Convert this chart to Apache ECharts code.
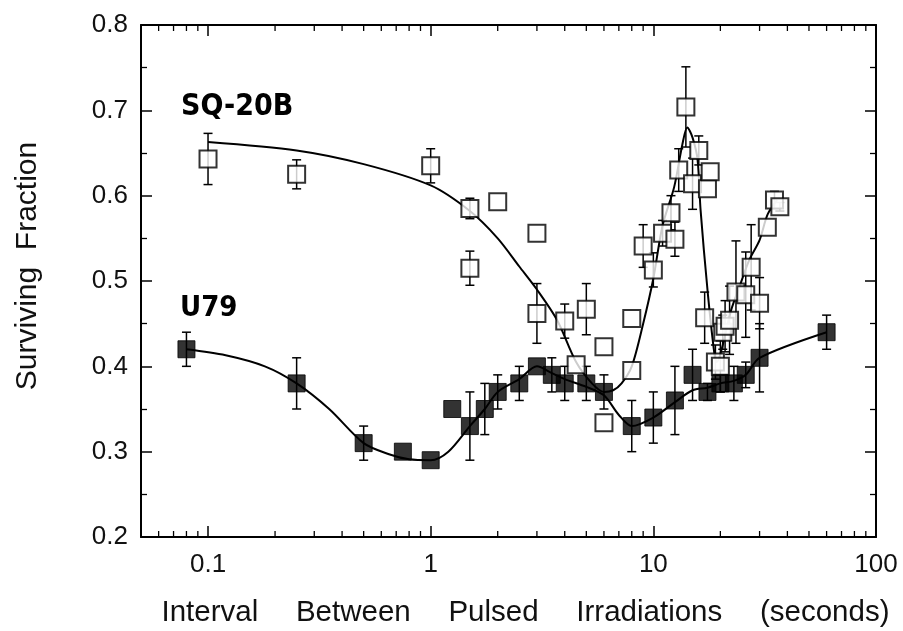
<!DOCTYPE html>
<html><head><meta charset="utf-8">
<script src="https://cdn.jsdelivr.net/npm/echarts@6.0.0/dist/echarts.min.js"></script>
<style>html,body{margin:0;padding:0;background:#fff}#c{width:903px;height:631px}</style>
</head><body><div id="c"></div>
<script>
// ---- tick labels ----
const xTickLabels = ['0.1', '1', '10', '100'];
const yTickLabels = ['0.2', '0.3', '0.4', '0.5', '0.6', '0.7', '0.8'];
const xMinorTicks = [0.06, 0.07, 0.08, 0.09, 0.2, 0.3, 0.4, 0.5, 0.6, 0.7, 0.8, 0.9,
  2, 3, 4, 5, 6, 7, 8, 9, 20, 30, 40, 50, 60, 70, 80, 90];

// ---- U79 (filled squares) ----
const u79X   = [0.08, 0.25, 0.5, 0.75, 1, 1.25, 1.5, 1.75, 2, 2.5, 3, 3.5, 4, 5, 6, 8, 10, 12.5, 15, 17.5, 20, 23, 26, 30, 60];
const u79Y   = [0.42, 0.38, 0.31, 0.30, 0.29, 0.35, 0.33, 0.35, 0.37, 0.38, 0.40, 0.39, 0.38, 0.38, 0.37, 0.33, 0.34, 0.36, 0.39, 0.37, 0.38, 0.38, 0.39, 0.41, 0.44];
const u79Err = [0.02, 0.03, 0.02, 0, 0, 0, 0.04, 0.03, 0.02, 0.02, 0, 0.02, 0.02, 0.02, 0.02, 0.03, 0.03, 0.04, 0.03, 0.01, 0.01, 0.02, 0.015, 0.04, 0.02];

// ---- SQ-20B (open squares) ----
const sqX   = [0.1, 0.25, 1, 1.5, 1.5, 2, 3, 3, 4, 4.5, 5, 6, 6, 8, 8, 9, 10, 11, 12, 12.5, 13, 14, 15, 16, 17, 17.5, 18, 19, 20, 20.5, 21, 22, 23.5, 26, 27.5, 30, 32.5, 35, 37];
const sqY   = [0.643, 0.625, 0.635, 0.585, 0.515, 0.593, 0.556, 0.462, 0.453, 0.402, 0.467, 0.423, 0.334, 0.456, 0.395, 0.541, 0.513, 0.556, 0.58, 0.549, 0.63, 0.704, 0.614, 0.653, 0.457, 0.608, 0.628, 0.405, 0.40, 0.44, 0.447, 0.454, 0.487, 0.484, 0.516, 0.474, 0.563, 0.595, 0.587];
const sqErr = [0.03, 0.017, 0.02, 0.012, 0.02, 0, 0, 0.035, 0.02, 0, 0.03, 0, 0, 0, 0, 0.025, 0.02, 0.015, 0.02, 0.02, 0.025, 0.047, 0.03, 0.017, 0.03, 0, 0, 0.02, 0.03, 0.02, 0.03, 0.04, 0.06, 0.05, 0.05, 0.03, 0, 0.01, 0.005];

// ---- fitted curves ----
const u79CurveX = [0.08, 0.12, 0.18, 0.25, 0.35, 0.5, 0.65, 0.8, 1, 1.2, 1.5, 1.75, 2, 2.5, 3, 3.5, 4, 5, 6, 7, 8, 10, 12.5, 15, 17.5, 20, 23, 26, 30, 60];
const u79CurveY = [0.42, 0.413, 0.40, 0.38, 0.35, 0.31, 0.297, 0.291, 0.29, 0.30, 0.33, 0.35, 0.37, 0.385, 0.40, 0.392, 0.385, 0.376, 0.366, 0.343, 0.33, 0.34, 0.358, 0.372, 0.375, 0.38, 0.383, 0.39, 0.41, 0.44];
const sqCurveX = [0.1, 0.25, 0.5, 1, 1.5, 2, 2.5, 3, 3.7, 4.5, 5.3, 6, 6.6, 7.2, 8, 9, 10, 11, 12.4, 13.5, 14.2, 15, 15.8, 16.3, 17.5, 18.8, 19.3, 20.5, 22.3, 24.5, 27, 30, 32.6, 36];
const sqCurveY = [0.663, 0.653, 0.637, 0.612, 0.582, 0.55, 0.517, 0.49, 0.454, 0.405, 0.38, 0.37, 0.372, 0.38, 0.40, 0.45, 0.503, 0.565, 0.61, 0.66, 0.68, 0.668, 0.642, 0.583, 0.49, 0.415, 0.405, 0.425, 0.465, 0.495, 0.525, 0.548, 0.578, 0.595];

const xTitleWords = ['Interval', 'Between', 'Pulsed', 'Irradiations', '(seconds)'];
const yTitleWords = ['Surviving', 'Fraction'];

const FONT = '"Liberation Sans", Arial, Helvetica, sans-serif';

function errRender(params, api) {
  const x = api.value(0), y = api.value(1), e = api.value(2);
  if (!e) return null;
  const top = api.coord([x, y + e]), bot = api.coord([x, y - e]);
  const cw = 4.5;
  const style = { stroke: '#000', lineWidth: 1.5 };
  return { type: 'group', children: [
    { type: 'line', shape: { x1: top[0], y1: top[1], x2: bot[0], y2: bot[1] }, style },
    { type: 'line', shape: { x1: top[0] - cw, y1: top[1], x2: top[0] + cw, y2: top[1] }, style },
    { type: 'line', shape: { x1: bot[0] - cw, y1: bot[1], x2: bot[0] + cw, y2: bot[1] }, style }
  ]};
}
function minorRender(params, api) {
  const v = api.value(0);
  const b = api.coord([v, 0.2]), t = api.coord([v, 0.8]);
  const style = { stroke: '#000', lineWidth: 1.3 };
  return { type: 'group', children: [
    { type: 'line', shape: { x1: b[0], y1: b[1], x2: b[0], y2: b[1] - 6 }, style },
    { type: 'line', shape: { x1: t[0], y1: t[1], x2: t[0], y2: t[1] + 6 }, style }
  ]};
}
function xLabel(v) {
  for (const l of xTickLabels) if (Math.abs(Math.log10(v) - Math.log10(+l)) < 1e-6) return l;
  return '';
}
function yLabel(v) {
  const s = v.toFixed(1);
  return yTickLabels.indexOf(s) >= 0 ? s : '';
}

const xBase = {
  type: 'log', logBase: 10, min: 0.05, max: 100,
  axisLine: { show: true, lineStyle: { color: '#000', width: 2 } },
  axisTick: { show: true, inside: true, length: 11, lineStyle: { color: '#000', width: 1.5 } },
  splitLine: { show: false }
};
const yBase = {
  type: 'value', min: 0.2, max: 0.8, interval: 0.1,
  axisLine: { show: true, lineStyle: { color: '#000', width: 2 } },
  axisTick: { show: true, inside: true, length: 11, lineStyle: { color: '#000', width: 1.5 } },
  minorTick: { show: true, splitNumber: 2, length: 6, lineStyle: { color: '#000', width: 1.3 } },
  splitLine: { show: false }
};

const chart = echarts.init(document.getElementById('c'), null, { renderer: 'canvas' });
chart.setOption({
  animation: false,
  backgroundColor: '#fff',
  grid: { left: 141, right: 27, top: 25, bottom: 94, containLabel: false, outerBoundsMode: 'none' },
  xAxis: [
    Object.assign({}, xBase, {
      position: 'bottom',
      name: xTitleWords.join(' \u2003'), nameLocation: 'middle', nameGap: 61,
      nameTextStyle: { fontFamily: FONT, fontSize: 29.5, color: '#111', padding: [0, 0, 0, 34] },
      axisLabel: { showMinLabel: false, margin: 15, fontFamily: FONT, fontSize: 26, color: '#111', formatter: xLabel }
    }),
    Object.assign({}, xBase, { position: 'top', axisLabel: { show: false } })
  ],
  yAxis: [
    Object.assign({}, yBase, {
      position: 'left',
      name: yTitleWords.join('  '), nameLocation: 'middle', nameGap: 98,
      nameTextStyle: { fontFamily: FONT, fontSize: 30, color: '#111', padding: [0, 0, 0, 30] },
      axisLabel: { margin: 13, fontFamily: FONT, fontSize: 26, color: '#111', formatter: yLabel }
    }),
    Object.assign({}, yBase, { position: 'right', axisLabel: { show: false } })
  ],
  series: [
    { type: 'custom', name: 'minorX', xAxisIndex: 0, yAxisIndex: 0, silent: true, z: 1,
      data: xMinorTicks.map(v => [v, 0.5]), encode: { x: 0, y: 1 }, renderItem: minorRender },
    { type: 'line', name: 'SQ-20B fit', data: sqCurveX.map((x, i) => [x, sqCurveY[i]]),
      smooth: 0.3, showSymbol: false, symbol: 'none', lineStyle: { color: '#000', width: 2 }, z: 2 },
    { type: 'line', name: 'U79 fit', data: u79CurveX.map((x, i) => [x, u79CurveY[i]]),
      smooth: 0.3, showSymbol: false, symbol: 'none', lineStyle: { color: '#000', width: 2 }, z: 2 },
    { type: 'custom', name: 'SQ err', data: sqX.map((x, i) => [x, sqY[i], sqErr[i]]), encode: { x: 0, y: 1 }, renderItem: errRender, z: 3 },
    { type: 'custom', name: 'U79 err', data: u79X.map((x, i) => [x, u79Y[i], u79Err[i]]), encode: { x: 0, y: 1 }, renderItem: errRender, z: 3 },
    { type: 'scatter', name: 'SQ-20B', data: sqX.map((x, i) => [x, sqY[i]]), symbol: 'rect', symbolSize: 17,
      itemStyle: { color: '#fff', borderColor: '#000', borderWidth: 2 }, z: 4 },
    { type: 'scatter', name: 'U79', data: u79X.map((x, i) => [x, u79Y[i]]), symbol: 'rect', symbolSize: 17,
      itemStyle: { color: '#000', borderColor: '#000', borderWidth: 1 }, z: 5 }
  ],
  graphic: [
    { type: 'text', left: 181, top: 92, z: 10,
      style: { text: 'SQ-20B', font: 'bold 30px "Liberation Sans Narrow", "DejaVu Sans Condensed", sans-serif', fill: '#000' } },
    { type: 'text', left: 180, top: 294, z: 10,
      style: { text: 'U79', font: 'bold 29px "Liberation Sans Narrow", "DejaVu Sans Condensed", sans-serif', fill: '#000' } }
  ]
});
</script>
</body></html>
